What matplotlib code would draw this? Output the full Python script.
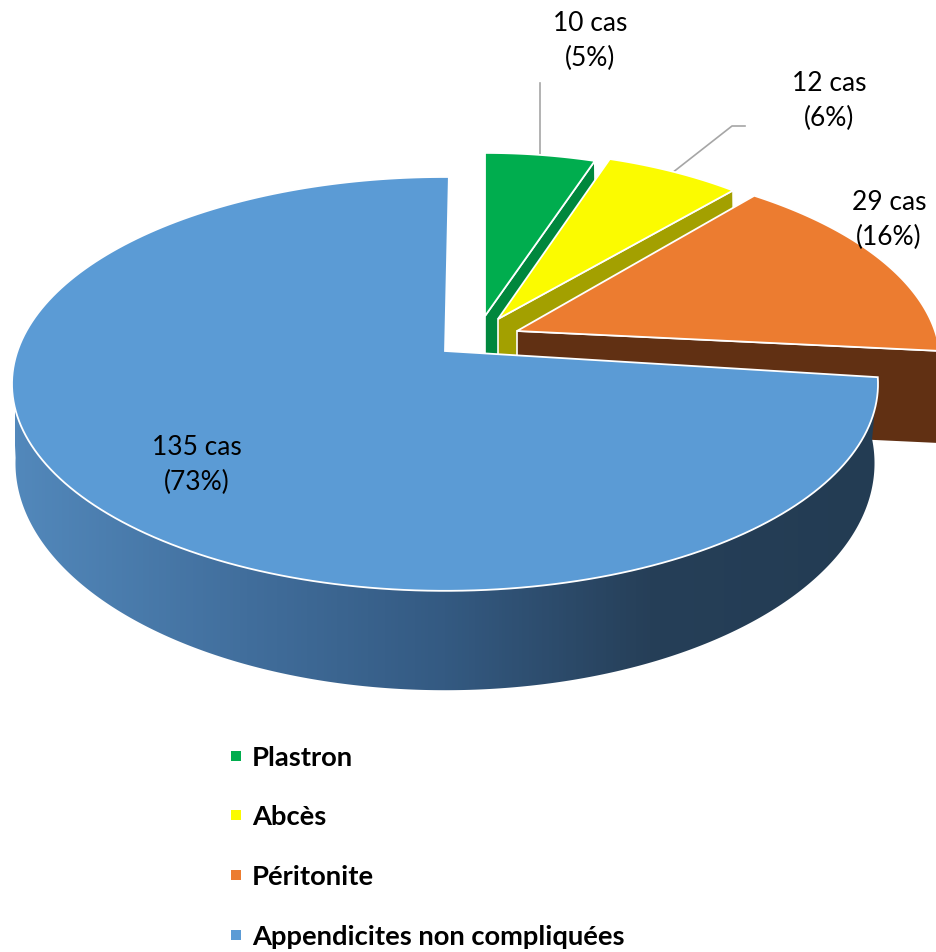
import numpy as np
import matplotlib
matplotlib.use("Agg")
import matplotlib.pyplot as plt
from matplotlib.colors import LinearSegmentedColormap
from matplotlib.patches import Polygon

plt.rcParams['font.family'] = ['Lato', 'DejaVu Sans']

categories = ['Plastron', 'Abcès', 'Péritonite', 'Appendicites non compliquées']
cases = [10, 12, 29, 135]
labels = ['10 cas\n(5%)', '12 cas\n(6%)', '29 cas\n(16%)', '135 cas\n(73%)']

top_colors = ['#00ad4e', '#fbfb00', '#ec7c30', '#5b9bd5']
side_colors = ['#00873d', '#a3a000', '#613013', '#345a82']

# apex x, apex y, R, S of each slice on the screen, exploded ones are narrower
apex = [(485, 317, 381, 189), (498, 320, 388, 195), (517, 332, 418, 197), (445, 352, 427.5, 201.7)]
shift = [(0, 0), (0, 0), (-3, -3), (-1.4, 0.6)]
label_pos = [(590, 41), (829, 101), (889, 220), (197, 465)]
K = 0.159
K2 = 0.23
DEPTH = 93


def rim(a, ax0, ay0, R, S, k=K):
    a = np.radians(a)
    w = 1 + k * np.cos(a)
    return ax0 + R * np.sin(a) / w, ay0 - S * np.cos(a) / w


fig = plt.figure(figsize=(9.36, 9.53), dpi=100)
ax = fig.add_axes([0, 0, 1, 1])
ax.set_xlim(0, 936)
ax.set_ylim(953, 0)
ax.axis('off')

edges = np.cumsum([0] + cases) / sum(cases) * 360

# leader lines
ax.plot([540, 540], [84, 156], color='#a6a6a6', lw=1.2, zorder=1)
ax.plot([672, 732, 745], [174, 127, 127], color='#a6a6a6', lw=1.2, zorder=1)

for i in range(len(cases)):
    a0 = edges[i] + shift[i][0]
    a1 = edges[i + 1] + shift[i][1]
    x0, y0, R, S = apex[i]
    t = np.linspace(a0, a1, 200)
    xr, yr = rim(t, x0, y0, R, S)
    z = 2 + i * 2

    if i < 3:
        # cut face at the end of the slice
        ex, ey = rim(a1, x0, y0, R, S)
        face = [(x0, y0), (ex, ey), (ex + 1, ey + DEPTH), (x0, y0 + DEPTH)]
        ax.add_patch(Polygon(face, closed=True, fc=side_colors[i], ec='white', lw=1.2, zorder=z))
    else:
        # outer wall of the big slice, with its gradient
        ts = np.linspace(a0, 258, 300)
        xt, yt = rim(ts, x0, y0, R, S)
        xb, yb = rim(ts, 445, 412, 418, 215, K2)
        wall = np.column_stack([np.r_[xt, xb[::-1]], np.r_[yt, yb[::-1]]])
        cmap = LinearSegmentedColormap.from_list('wall', [
            (0.0, '#5288bb'), (0.27, '#416e9c'), (0.5, '#345a82'),
            (0.74, '#263f58'), (1.0, '#233c53')])
        im = ax.imshow(np.linspace(0, 1, 256)[None, :], cmap=cmap, aspect='auto',
                       extent=[15, 875, 953, 0], zorder=z)
        im.set_clip_path(Polygon(wall, closed=True, transform=ax.transData))
        ax.set_xlim(0, 936)
        ax.set_ylim(953, 0)

    top = np.column_stack([np.r_[x0, xr], np.r_[y0, yr]])
    ax.add_patch(Polygon(top, closed=True, fc=top_colors[i], ec='white', lw=1.3,
                         joinstyle='miter', zorder=z + 1))

for (lx, ly), txt in zip(label_pos, labels):
    ax.text(lx, ly, txt, ha='center', va='center', fontsize=19, color='black',
            linespacing=1.5, zorder=20)

# legend
legend_y = [758, 817, 877, 937]
for name, color, y in zip(categories, top_colors, legend_y):
    ax.plot([236], [y - 1], marker='s', ms=7.6, mew=0, color=color, zorder=20, clip_on=False)
    ax.text(252, y, name, ha='left', va='center', fontsize=19.7, fontweight='bold',
            color='black', zorder=20)

fig.savefig('out.png', dpi=100)
